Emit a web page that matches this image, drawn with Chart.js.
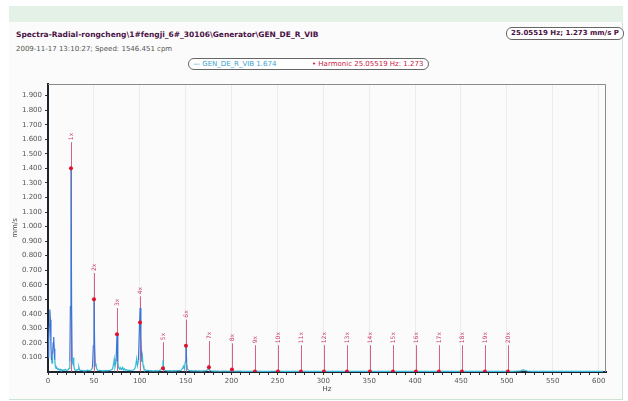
<!DOCTYPE html>
<html>
<head>
<meta charset="utf-8">
<script src="https://cdn.jsdelivr.net/npm/chart.js@4"></script>
<style>
  body { margin: 0; background: #fff; font-family: "DejaVu Sans", Verdana, sans-serif; }
  #wrap { position: relative; width: 628px; height: 401px; }
  .panel { position: absolute; left: 9px; top: 6px; width: 613px; height: 393px; background: #fafbfa; border-right: 1px solid #cfe3d4; border-bottom: 1px solid #cfe3d4; }
  .band { position: absolute; left: 9px; top: 6px; width: 614px; height: 16px; background: #e3f1e6; }
  .txt { position: absolute; white-space: nowrap; font-size: 7px; line-height: 9px; }
  .pill { position: absolute; border: 1px solid #666; border-radius: 6px; background: #fff; white-space: nowrap; font-size: 7px; }
  canvas { position: absolute; left: 0; top: 0; }
</style>
</head>
<body>
<div id="wrap">
  <div class="panel"></div>
  <div class="band"></div>
  <div class="txt" style="left:16px;top:30px;font-size:7.5px;font-weight:bold;color:#4b1146;">Spectra-Radial-rongcheng\1#fengji_6#_30106\Generator\GEN_DE_R_VIB</div>
  <div class="txt" style="left:16px;top:45px;color:#555;">2009-11-17 13:10:27; Speed: 1546.451 cpm</div>
  <div class="pill" style="left:506px;top:27px;width:116px;height:11px;line-height:11px;text-align:center;font-weight:bold;color:#4b1146;">25.05519 Hz; 1.273 mm/s P</div>
  <div class="pill" style="left:188px;top:58px;width:239px;height:10px;line-height:10px;">
    <span style="position:absolute;left:4px;color:#3a9fd2;">— GEN_DE_R_VIB 1.674</span>
    <span style="position:absolute;left:123px;color:#c8203f;">• Harmonic 25.05519 Hz: 1.273</span>
  </div>
  <canvas id="chart" width="628" height="401"></canvas>
</div>
<script>
// spectrum trace (Hz, mm/s)
const specHz = [
  0.2, 0.8, 1.4, 2.0, 2.6, 3.2, 3.8, 4.4, 5.0, 5.6,
  6.2, 6.8, 7.4, 8.0, 8.8, 9.6, 10.5, 11.4, 12.3, 13.2,
  14.1, 15.0, 16.0, 17.0, 18.0, 19.0, 20.0, 21.0, 22.0, 23.0,
  23.8, 24.4, 25.05, 25.7, 26.3, 26.9, 27.5, 28.1, 28.8, 29.8,
  30.8, 31.8, 32.8, 33.6, 34.4, 35.5, 37.0, 38.5, 40.0, 41.5,
  43.0, 44.5, 46.0, 47.3, 48.5, 49.4, 50.1, 50.8, 51.5, 52.2,
  52.9, 54.0, 55.5, 57.0, 58.5, 60.0, 61.5, 63.0, 64.5, 66.0,
  67.5, 69.0, 70.3, 71.3, 72.2, 73.0, 74.2, 75.2, 76.1, 76.9,
  77.8, 78.7, 79.6, 80.5, 81.4, 82.3, 83.2, 84.3, 85.5, 87.0,
  88.5, 90.0, 91.5, 93.0, 94.4, 95.5, 96.6, 97.5, 98.6, 99.5,
  100.4, 101.2, 102.0, 102.8, 103.6, 104.5, 105.8, 107.5, 109.0, 111.0,
  113, 115, 117, 119, 121, 122.8, 124.3, 125.3, 126.2, 127.3,
  129, 131, 133, 135, 137, 139, 141, 143, 145, 146.6,
  147.6, 148.6, 149.5, 150.3, 151.1, 152.0, 153.5, 155, 157, 159,
  161, 163, 165, 167, 169, 171, 173, 174.5, 175.4, 176.3,
  178, 180, 184, 188, 192, 196, 200.4, 204, 208, 212,
  216, 220, 225.5, 230, 235, 240, 245, 250.5, 255, 260,
  265, 270, 275.6, 280, 285, 290, 295, 300.7, 305, 310,
  315, 320, 325.7, 330, 335, 340, 345, 350.8, 355, 360,
  365, 370, 375.8, 380, 385, 390, 395, 400.9, 405, 410,
  415, 420, 425.9, 430, 435, 440, 445, 451, 455, 460,
  465, 470, 476, 480, 485, 490, 495, 501.1, 505, 510,
  515, 518, 520, 523, 528, 535, 540, 545, 550, 555,
  560, 565, 570, 575, 580, 585, 590, 595, 600, 605
];
const specAmp = [
  0.10, 0.22, 0.32, 0.43, 0.36, 0.18, 0.08, 0.06, 0.12, 0.20,
  0.24, 0.16, 0.08, 0.04, 0.025, 0.03, 0.018, 0.022, 0.014, 0.02,
  0.012, 0.016, 0.01, 0.014, 0.012, 0.018, 0.012, 0.01, 0.016, 0.025,
  0.07, 0.45, 1.40, 0.45, 0.07, 0.06, 0.10, 0.05, 0.02, 0.014,
  0.01, 0.015, 0.018, 0.035, 0.015, 0.01, 0.012, 0.008, 0.01, 0.008,
  0.012, 0.009, 0.012, 0.015, 0.03, 0.18, 0.50, 0.18, 0.04, 0.06,
  0.025, 0.014, 0.01, 0.012, 0.008, 0.01, 0.008, 0.011, 0.008, 0.012,
  0.01, 0.015, 0.02, 0.05, 0.09, 0.035, 0.07, 0.26, 0.07, 0.03,
  0.02, 0.03, 0.018, 0.026, 0.032, 0.015, 0.022, 0.012, 0.016, 0.01,
  0.013, 0.009, 0.012, 0.014, 0.02, 0.04, 0.09, 0.045, 0.08, 0.28,
  0.44, 0.25, 0.07, 0.11, 0.045, 0.022, 0.015, 0.01, 0.012, 0.008,
  0.01, 0.007, 0.009, 0.008, 0.01, 0.014, 0.03, 0.08, 0.025, 0.012,
  0.01, 0.008, 0.01, 0.007, 0.009, 0.008, 0.009, 0.01, 0.012, 0.025,
  0.04, 0.02, 0.07, 0.19, 0.065, 0.02, 0.012, 0.008, 0.01, 0.007,
  0.009, 0.007, 0.008, 0.006, 0.008, 0.007, 0.012, 0.02, 0.03, 0.012,
  0.007, 0.006, 0.007, 0.005, 0.006, 0.005, 0.008, 0.005, 0.006, 0.004,
  0.005, 0.004, 0.006, 0.004, 0.005, 0.004, 0.005, 0.006, 0.004, 0.005,
  0.004, 0.004, 0.005, 0.004, 0.004, 0.005, 0.004, 0.005, 0.004, 0.004,
  0.005, 0.004, 0.005, 0.004, 0.004, 0.005, 0.004, 0.005, 0.004, 0.004,
  0.004, 0.005, 0.004, 0.004, 0.005, 0.004, 0.004, 0.005, 0.004, 0.004,
  0.005, 0.004, 0.004, 0.004, 0.005, 0.004, 0.004, 0.005, 0.004, 0.004,
  0.005, 0.004, 0.004, 0.004, 0.005, 0.004, 0.004, 0.005, 0.004, 0.005,
  0.008, 0.016, 0.01, 0.005, 0.004, 0.004, 0.005, 0.004, 0.004, 0.005,
  0.004, 0.004, 0.005, 0.004, 0.004, 0.004, 0.005, 0.004, 0.004, 0.004
];

// harmonic markers
const harmHz = [25.06, 50.11, 75.17, 100.22, 125.28, 150.33, 175.39, 200.44, 225.50, 250.55,
  275.61, 300.66, 325.72, 350.77, 375.83, 400.88, 425.94, 450.99, 476.05, 501.10];
const harmAmp = [1.40, 0.50, 0.26, 0.34, 0.025, 0.18, 0.033, 0.017, 0.004, 0.004,
  0.004, 0.004, 0.004, 0.004, 0.004, 0.004, 0.004, 0.004, 0.004, 0.004];
const harmLabels = ['1x', '2x', '3x', '4x', '5x', '6x', '7x', '8x', '9x', '10x',
  '11x', '12x', '13x', '14x', '15x', '16x', '17x', '18x', '19x', '20x'];

// axis tick labels
const xTickLabels = [0, 50, 100, 150, 200, 250, 300, 350, 400, 450, 500, 550, 600];
const yTickLabels = [0.1, 0.2, 0.3, 0.4, 0.5, 0.6, 0.7, 0.8, 0.9, 1.0,
  1.1, 1.2, 1.3, 1.4, 1.5, 1.6, 1.7, 1.8, 1.9];

const FONT = '"DejaVu Sans", Verdana, sans-serif';
const STEM_EXT = 0.18;

// stems + rotated labels for the harmonics
const harmonicStems = {
  id: 'harmonicStems',
  beforeDatasetsDraw(chart) {
    const { ctx, scales: { x, y } } = chart;
    ctx.save();
    ctx.strokeStyle = 'rgba(208, 70, 105, 0.85)';
    ctx.lineWidth = 1;
    ctx.fillStyle = '#c83a62';
    ctx.font = '6px ' + FONT;
    ctx.textBaseline = 'middle';
    harmHz.forEach((hz, i) => {
      const px = Math.round(x.getPixelForValue(hz)) + 0.5;
      const top = y.getPixelForValue(harmAmp[i] + STEM_EXT);
      ctx.beginPath();
      ctx.moveTo(px, y.getPixelForValue(0));
      ctx.lineTo(px, top);
      ctx.stroke();
      ctx.save();
      ctx.translate(px, top - 2);
      ctx.rotate(-Math.PI / 2);
      ctx.textAlign = 'left';
      ctx.fillText(harmLabels[i], 0, 0);
      ctx.restore();
    });
    ctx.restore();
  },
  afterDraw(chart) {
    const { ctx, chartArea: a } = chart;
    ctx.save();
    ctx.strokeStyle = '#8a8a8a';
    ctx.lineWidth = 1;
    ctx.beginPath();
    ctx.moveTo(a.left, a.top + 0.5);
    ctx.lineTo(a.right - 0.5, a.top + 0.5);
    ctx.lineTo(a.right - 0.5, a.bottom);
    ctx.stroke();
    ctx.restore();
  }
};

new Chart(document.getElementById('chart'), {
  type: 'line',
  data: {
    datasets: [
      {
        type: 'scatter',
        label: 'Harmonic',
        data: harmHz.map((hz, i) => ({ x: hz, y: harmAmp[i] })),
        pointRadius: 2,
        pointBackgroundColor: '#e3102c',
        pointBorderWidth: 0,
        order: 0
      },
      {
        label: 'GEN_DE_R_VIB',
        data: specHz.map((hz, i) => ({ x: hz, y: specAmp[i] })),
        borderColor: '#36b6d8',
        borderWidth: 1.2,
        pointRadius: 0,
        tension: 0,
        segment: {
          borderColor: c => Math.max(c.p0.parsed.y, c.p1.parsed.y) > 0.15 ? '#3a74d6' : '#36b6d8'
        },
        order: 1
      }
    ]
  },
  options: {
    responsive: false,
    animation: false,
    layout: { padding: { top: 84, right: 22, left: 0, bottom: 0 } },
    plugins: {
      legend: { display: false },
      tooltip: { enabled: false }
    },
    scales: {
      x: {
        type: 'linear',
        min: 0,
        max: 608,
        afterFit: s => { s.height = 29; },
        afterBuildTicks: s => {
          const t = [];
          for (let v = 0; v <= 600; v += 10) t.push({ value: v });
          s.ticks = t;
        },
        ticks: {
          autoSkip: false,
          maxRotation: 0,
          padding: 2,
          color: '#555',
          font: { family: FONT, size: 7 },
          callback: v => xTickLabels.includes(v) ? String(v) : ''
        },
        grid: {
          color: c => (c.tick && c.tick.value % 50 === 0 && c.tick.value > 0) ? '#ececec' : 'rgba(0,0,0,0)',
          tickColor: '#333',
          tickLength: 3
        },
        border: { color: '#1c2430', width: 2 },
        title: { display: true, text: 'Hz', color: '#444', font: { family: FONT, size: 7 }, padding: { top: 0, bottom: 8 } }
      },
      y: {
        min: 0,
        max: 1.98,
        afterFit: s => { s.width = 48; },
        afterBuildTicks: s => {
          s.ticks = yTickLabels.map(v => ({ value: v }));
        },
        ticks: {
          autoSkip: false,
          padding: 3,
          color: '#555',
          font: { family: FONT, size: 7 },
          callback: v => Number(v).toFixed(3)
        },
        grid: {
          color: 'rgba(0,0,0,0)',
          tickColor: '#333',
          tickLength: 3
        },
        border: { color: '#1c2430', width: 2 },
        title: { display: true, text: 'mm/s', color: '#444', font: { family: FONT, size: 7 }, padding: { top: 11, bottom: 0 } }
      }
    }
  },
  plugins: [harmonicStems]
});
</script>
</body>
</html>
